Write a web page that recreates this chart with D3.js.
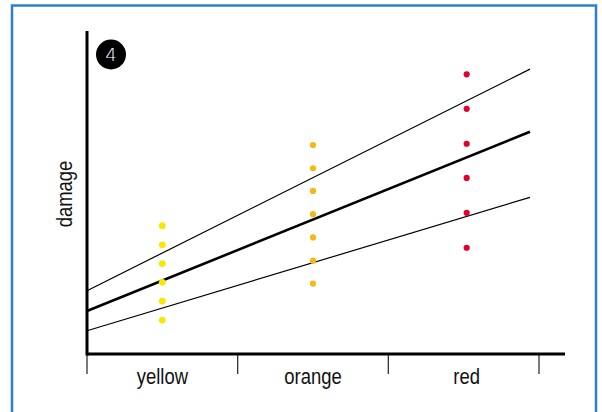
<!DOCTYPE html>
<html>
<head>
<meta charset="utf-8">
<script src="https://cdn.jsdelivr.net/npm/d3@7"></script>
<style>
  html, body { margin: 0; padding: 0; background: #fff; }
  svg { display: block; }
</style>
</head>
<body>
<svg id="chart" width="602" height="412"></svg>
<script>
// ---- data ----
const categories = ["yellow", "orange", "red"];
const categoryColors = ["#f7e800", "#f5b912", "#e3002b"];
const yellowValues = [39.7, 33.8, 28.0, 22.2, 16.4, 10.5];
const orangeValues = [64.7, 57.5, 50.5, 43.3, 36.1, 28.9, 21.8];
const redValues = [86.6, 75.9, 65.1, 54.5, 43.7, 32.9];
// straight lines drawn across the plot: [value at left end, value at right end]
const lineExtent = [-0.5, 2.44];           // category-index positions of line ends
const upperLine = [19.6, 88.2];
const fitLine = [13.3, 68.8];
const lowerLine = [7.2, 48.5];
const yLabel = "damage";
const badgeText = "4";

const seriesValues = [yellowValues, orangeValues, redValues];

// ---- layout ----
const svg = d3.select("#chart");
const plotLeft = 87, plotRight = 539, axisRight = 565, plotTop = 31, plotBottom = 354;
const FONT_N = "'Liberation Sans', Arial, sans-serif";
const SQUEEZE = 0.84;
const catShift = [0, 0, 3];   // small horizontal nudge of the last category's column

// frame
svg.append("rect")
  .attr("x", 12).attr("y", 5.5)
  .attr("width", 584).attr("height", 420)
  .attr("fill", "none")
  .attr("stroke", "#2f7fd0")
  .attr("stroke-width", 2.5);

const x = d3.scaleLinear().domain([-0.5, categories.length - 0.5]).range([plotLeft, plotRight]);
const xBand = d3.scaleBand().domain(categories).range([plotLeft, plotRight]).padding(0);
const y = d3.scaleLinear().domain([0, 100]).range([plotBottom, plotTop]);
const cx = c => xBand(c) + xBand.bandwidth() / 2 + catShift[categories.indexOf(c)];

// x axis labels
const xAxis = d3.axisBottom(xBand).tickSize(0).tickPadding(0);
const gx = svg.append("g").attr("transform", `translate(0,${plotBottom})`).call(xAxis);
gx.select(".domain").remove();
gx.selectAll(".tick").attr("transform", d => `translate(${cx(d)},0)`);
gx.selectAll("text")
  .attr("font-family", FONT_N)
  .attr("font-size", 22)
  .attr("fill", "#111")
  .attr("dy", "0")
  .attr("y", 30)
  .attr("transform", `scale(${SQUEEZE},1)`);

// boundary ticks
const boundaries = d3.range(categories.length + 1).map(i => i - 0.5);
svg.append("g").selectAll("line").data(boundaries).join("line")
  .attr("x1", d => x(d)).attr("x2", d => x(d))
  .attr("y1", plotBottom).attr("y2", plotBottom + 20)
  .attr("stroke", "#333").attr("stroke-width", 1.3);

// axis lines
svg.append("line")
  .attr("x1", plotLeft).attr("x2", axisRight)
  .attr("y1", plotBottom).attr("y2", plotBottom)
  .attr("stroke", "#000").attr("stroke-width", 3);
svg.append("line")
  .attr("x1", plotLeft).attr("x2", plotLeft)
  .attr("y1", plotTop).attr("y2", plotBottom + 1.5)
  .attr("stroke", "#000").attr("stroke-width", 3);

// y label
svg.append("text")
  .attr("transform", `translate(72,194) rotate(-90) scale(${SQUEEZE},1)`)
  .attr("text-anchor", "middle")
  .attr("font-family", FONT_N)
  .attr("font-size", 22)
  .attr("fill", "#111")
  .text(yLabel);

// lines
const lines = [
  { v: upperLine, w: 1.2 },
  { v: fitLine, w: 2.6 },
  { v: lowerLine, w: 1.2 }
];
const lineGen = d3.line().x(d => x(d[0])).y(d => y(d[1]));
svg.append("g").selectAll("path").data(lines).join("path")
  .attr("d", d => lineGen([[lineExtent[0], d.v[0]], [lineExtent[1], d.v[1]]]))
  .attr("fill", "none")
  .attr("stroke", "#000")
  .attr("stroke-width", d => d.w);

// dots
const points = [];
seriesValues.forEach((vals, i) => vals.forEach(v => points.push({ c: categories[i], i, v })));
svg.append("g").selectAll("circle").data(points).join("circle")
  .attr("cx", d => cx(d.c))
  .attr("cy", d => y(d.v))
  .attr("r", d => d.i === 0 ? 3.4 : 3.1)
  .attr("fill", d => categoryColors[d.i]);

// badge
svg.append("circle").attr("cx", 111).attr("cy", 54.5).attr("r", 15).attr("fill", "#000");
svg.append("text")
  .attr("x", 111).attr("y", 61)
  .attr("text-anchor", "middle")
  .attr("font-family", "'DejaVu Sans', sans-serif")
  .attr("font-weight", 300)
  .attr("font-size", 18)
  .attr("fill", "#fff")
  .text(badgeText);
</script>
</body>
</html>
